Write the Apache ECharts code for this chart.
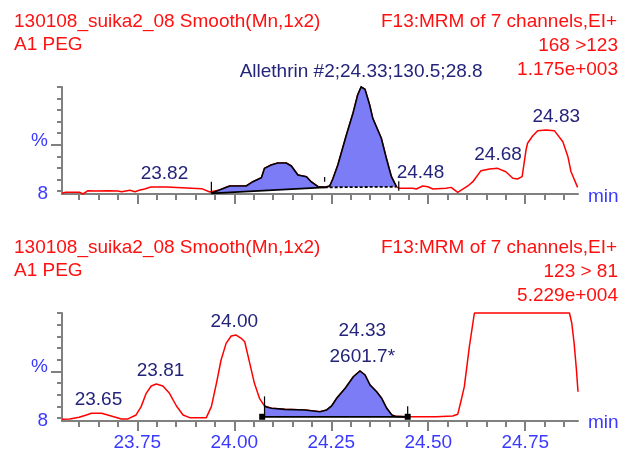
<!DOCTYPE html>
<html><head><meta charset="utf-8">
<script src="https://cdn.jsdelivr.net/npm/echarts@6/dist/echarts.min.js"></script>
<style>html,body{margin:0;padding:0;background:#fff}#c{width:624px;height:452px}</style>
</head><body><div id="c"></div>
<script>
// ---- data ----
const topTimes = [23.556,23.566,23.602,23.610,23.623,23.645,23.648,23.674,23.700,23.710,23.731,23.744,23.757,23.769,23.785,23.826,23.829,23.916,23.937,23.941,23.962,23.988,24.031,24.048,24.070,24.078,24.095,24.112,24.134,24.147,24.164,24.186,24.198,24.216,24.233,24.246,24.254,24.267,24.289,24.306,24.318,24.327,24.337,24.349,24.357,24.379,24.392,24.405,24.418,24.426,24.460,24.469,24.486,24.499,24.512,24.546,24.559,24.576,24.602,24.615,24.636,24.658,24.679,24.700,24.718,24.730,24.742,24.752,24.756,24.769,24.782,24.804,24.825,24.847,24.860,24.868,24.885];
const topValues = [0.7,1.6,1.6,0.0,3.1,2.8,1.9,3.1,2.8,2.1,3.5,2.1,3.7,4.7,6.5,6.5,5.0,5.0,1.9,0.6,3.7,7.5,7.5,11.5,15.2,24.0,27.1,29.0,29.0,26.2,17.8,16.2,11.5,6.8,6.2,7.5,14.0,27.1,55.1,75.4,92.5,100,97.8,83.2,70.7,52.1,33.4,16.2,6.8,5.3,5.3,4.7,7.5,6.8,4.7,5.3,6.2,1.6,7.5,11.5,21.8,23.4,24.0,20.8,14.7,14.0,16.2,41.1,47.4,54.2,59.2,59.8,59.2,48.9,34.9,20.8,6.2];

const botTimes = [23.556,23.576,23.600,23.619,23.632,23.658,23.683,23.709,23.726,23.747,23.760,23.773,23.786,23.799,23.816,23.833,23.851,23.868,23.885,23.928,23.941,23.954,23.966,23.979,23.992,24.005,24.018,24.027,24.040,24.052,24.065,24.078,24.083,24.096,24.130,24.182,24.221,24.238,24.251,24.264,24.286,24.307,24.324,24.337,24.350,24.367,24.380,24.393,24.406,24.415,24.445,24.477,24.520,24.524,24.563,24.576,24.585,24.593,24.606,24.615,24.619,24.864,24.870,24.876,24.882,24.886];
const botValues = [1.6,1.9,3.4,5.6,7.1,7.1,4.6,1.9,1.9,5.6,13.3,25.6,32.4,34.3,32.4,25.6,13.9,5.6,3.1,3.1,13.3,34.9,56.5,71.9,78.7,79.6,76.6,73.4,53.4,34.9,21.0,13.9,13.0,11.8,10.8,10.2,8.6,10.2,13.9,21.0,30.3,41.0,46.3,42.6,33.3,27.1,21.0,11.8,5.6,4.3,3.9,3.9,3.9,4.6,4.6,6.2,19.4,31.8,68.8,90.5,100,100,90.5,72,47.2,27.1];

// peak labels
const topPeakTimes = [23.82, 24.48, 24.68, 24.83];
const topPeakHeights = [6.5, 7.5, 24.0, 59.8];
const botPeakTimes = [23.65, 23.81, 24.00];
const botPeakHeights = [7.1, 34.3, 79.6];
const botIntPeakTime = [24.33];
const botIntPeakHeight = [46.3];
const botIntPeakArea = ['2601.7*'];
const compoundLabel = ['Allethrin #2;24.33;130.5;28.8'];
const compoundTime = [24.327];
const compoundHeight = [100];

// integrations
const topIntStart = [23.941, 24.233];
const topIntEnd = [24.233, 24.418];
const topIntBaseStart = [0.6, 6.2];
const topIntBaseEnd = [6.2, 6.8];
const topIntDashed = [false, true];
const topMarkTimes = [23.941, 24.233, 24.424];
const topMarkLow = [0.6, 11.5, 3.0];
const topMarkHigh = [11.5, 16.0, 12.0];

const botIntStart = [24.078];
const botIntEnd = [24.445];
const botIntBaseStart = [3.9];
const botIntBaseEnd = [3.9];
const botIntDashed = [false];
const botMarkTimes = [24.078, 24.447];
const botMarkLow = [3.9, 3.9];
const botMarkHigh = [22.8, 13.6];
const botSquareTimes = [24.072, 24.447];
const botSquareValues = [3.9, 3.9];

// axes
const xMajorTicks = [23.75, 24.00, 24.25, 24.50, 24.75];
const xMinorTicks = [23.60,23.65,23.70,23.75,23.80,23.85,23.90,23.95,24.00,24.05,24.10,24.15,24.20,24.25,24.30,24.35,24.40,24.45,24.50,24.55,24.60,24.65,24.70,24.75,24.80,24.85];
const yMinorTicks = [100, 89.2, 78.4, 67.6, 56.8, 46, 35.2, 24.4, 13.6, 2.8];
const yMajorTicks = [46];
const yLabelValues = [0, 50];
const yLabelTexts = ['8', '%'];

const titleLeft = ['130108_suika2_08 Smooth(Mn,1x2)', 'A1 PEG'];
const titleRight = ['F13:MRM of 7 channels,EI+'];
const topChannel = ['168 >123', '1.175e+003'];
const botChannel = ['123 > 81', '5.229e+004'];

// ---- chart ----
const FONT = "'Liberation Sans', Arial, sans-serif";
const FS = 19;
const RED = '#ff1010';
const NAVY = '#24247a';
const BLUE = '#3a3aff';
const GRAY = '#808080';
const FILL = '#7c7cf6';
const X_MIN = 23.556, X_MAX = 24.886;

const zip = (a, b) => a.map((v, i) => [v, b[i]]);

function xAxes(gridIndex, showLabels) {
  return [
    { gridIndex, type: 'value', position: 'bottom', min: X_MIN, max: X_MAX,
      axisLine: { show: true, onZero: false, lineStyle: { color: GRAY, width: 2 } },
      splitLine: { show: false },
      axisTick: { show: true, customValues: xMinorTicks, length: 6, lineStyle: { color: GRAY, width: 2 } },
      axisLabel: { show: false } },
    { gridIndex, type: 'value', position: 'bottom', min: X_MIN, max: X_MAX,
      axisLine: { show: false, onZero: false }, splitLine: { show: false },
      axisTick: { show: true, customValues: xMajorTicks, length: 10, lineStyle: { color: GRAY, width: 2 } },
      axisLabel: { show: showLabels, customValues: xMajorTicks, margin: 12,
        formatter: v => v.toFixed(2), color: BLUE, fontSize: FS, fontFamily: FONT } }
  ];
}
function yAxes(gridIndex) {
  return [
    { gridIndex, type: 'value', position: 'left', min: 0, max: 100,
      axisLine: { show: true, onZero: false, lineStyle: { color: GRAY, width: 2 } },
      splitLine: { show: false },
      axisTick: { show: true, customValues: yMinorTicks, length: 5, lineStyle: { color: GRAY, width: 2 } },
      axisLabel: { show: true, customValues: yLabelValues, margin: 14,
        formatter: v => yLabelTexts[yLabelValues.indexOf(v)], color: BLUE, fontSize: FS, fontFamily: FONT } },
    { gridIndex, type: 'value', position: 'left', min: 0, max: 100,
      axisLine: { show: false, onZero: false }, splitLine: { show: false },
      axisTick: { show: true, customValues: yMajorTicks, length: 11, lineStyle: { color: GRAY, width: 2 } },
      axisLabel: { show: false } }
  ];
}

function integrationSeries(xi, yi, times, values, starts, ends, bStart, bEnd, dashed, markT, markLo, markHi, sqT, sqV) {
  return {
    type: 'custom', xAxisIndex: xi, yAxisIndex: yi, z: 5, clip: false, silent: true,
    data: [[24.3, 50]],
    renderItem: (params, api) => {
      const children = [];
      for (let k = 0; k < starts.length; k++) {
        const curve = [];
        for (let i = 0; i < times.length; i++) {
          if (times[i] >= starts[k] - 1e-9 && times[i] <= ends[k] + 1e-9) curve.push(api.coord([times[i], values[i]]));
        }
        const b0 = api.coord([starts[k], bStart[k]]);
        const b1 = api.coord([ends[k], bEnd[k]]);
        children.push({ type: 'polygon', shape: { points: curve.concat([b1, b0]) },
          style: { fill: FILL, stroke: null } });
        children.push({ type: 'polyline', shape: { points: curve },
          style: { fill: null, stroke: '#000', lineWidth: 1.6 } });
        children.push({ type: 'line', shape: { x1: b0[0], y1: b0[1], x2: b1[0], y2: b1[1] },
          style: { stroke: '#000', lineWidth: 1.8, lineDash: dashed[k] ? [3, 2] : null } });
      }
      for (let m = 0; m < markT.length; m++) {
        const p0 = api.coord([markT[m], markLo[m]]);
        const p1 = api.coord([markT[m], markHi[m]]);
        children.push({ type: 'line', shape: { x1: p0[0], y1: p0[1], x2: p1[0], y2: p1[1] },
          style: { stroke: '#000', lineWidth: 1.2 } });
      }
      for (let s = 0; s < sqT.length; s++) {
        const c = api.coord([sqT[s], sqV[s]]);
        children.push({ type: 'rect', shape: { x: c[0] - 3, y: c[1] - 3, width: 6, height: 6 },
          style: { fill: '#000' } });
      }
      return { type: 'group', children };
    }
  };
}

function labelSeries(xi, yi, times, heights, texts, distance, lineHeight) {
  return {
    type: 'scatter', xAxisIndex: xi, yAxisIndex: yi, symbolSize: 0, z: 6, silent: true,
    data: zip(times, heights),
    itemStyle: { opacity: 1 },
    label: { show: true, position: 'top', distance, lineHeight: lineHeight || FS + 2, opacity: 1,
      formatter: p => texts[p.dataIndex], color: NAVY, fontSize: FS, fontFamily: FONT },
    emphasis: { disabled: true }
  };
}

const text = (str, x, y, align, color) => ({
  type: 'text', x, y, silent: true,
  style: { text: str, fill: color, font: FS + 'px ' + FONT, textAlign: align, textVerticalAlign: 'middle' }
});

const chart = echarts.init(document.getElementById('c'), null, { renderer: 'canvas' });
chart.setOption({
  animation: false,
  backgroundColor: '#fff',
  grid: [
    { left: 62, top: 87, width: 516, height: 107 },
    { left: 62, top: 313, width: 516, height: 108.5 }
  ],
  xAxis: xAxes(0, false).concat(xAxes(1, true)),
  yAxis: yAxes(0).concat(yAxes(1)),
  series: [
    { type: 'line', xAxisIndex: 0, yAxisIndex: 0, data: zip(topTimes, topValues), showSymbol: false,
      clip: false, lineStyle: { color: '#ff0000', width: 1.5 }, z: 3 },
    { type: 'line', xAxisIndex: 2, yAxisIndex: 2, data: zip(botTimes, botValues), showSymbol: false,
      clip: false, lineStyle: { color: '#ff0000', width: 1.5 }, z: 3 },
    integrationSeries(0, 0, topTimes, topValues, topIntStart, topIntEnd, topIntBaseStart, topIntBaseEnd, topIntDashed,
      topMarkTimes, topMarkLow, topMarkHigh, [], []),
    integrationSeries(2, 2, botTimes, botValues, botIntStart, botIntEnd, botIntBaseStart, botIntBaseEnd, botIntDashed,
      botMarkTimes, botMarkLow, botMarkHigh, botSquareTimes, botSquareValues),
    labelSeries(0, 0, topPeakTimes, topPeakHeights, topPeakTimes.map(t => t.toFixed(2)), 3),
    labelSeries(0, 0, compoundTime, compoundHeight, compoundLabel, 5),
    labelSeries(2, 2, botPeakTimes, botPeakHeights, botPeakTimes.map(t => t.toFixed(2)), 3),
    labelSeries(2, 2, botIntPeakTime, botIntPeakHeight,
      botIntPeakTime.map((t, i) => t.toFixed(2) + '\n' + botIntPeakArea[i]), 1, 26)
  ],
  graphic: [
    text(titleLeft[0], 14, 22, 'left', RED),
    text(titleLeft[1], 14, 45, 'left', RED),
    text(titleRight[0], 617, 22, 'right', RED),
    text(topChannel[0], 618, 46, 'right', RED),
    text(topChannel[1], 618, 70, 'right', RED),
    text(titleLeft[0], 14, 248, 'left', RED),
    text(titleLeft[1], 14, 271, 'left', RED),
    text(titleRight[0], 617, 248, 'right', RED),
    text(botChannel[0], 618, 272, 'right', RED),
    text(botChannel[1], 618, 296, 'right', RED),
    text('min', 588, 197, 'left', BLUE),
    text('min', 588, 423, 'left', BLUE)
  ]
});
</script></body></html>
